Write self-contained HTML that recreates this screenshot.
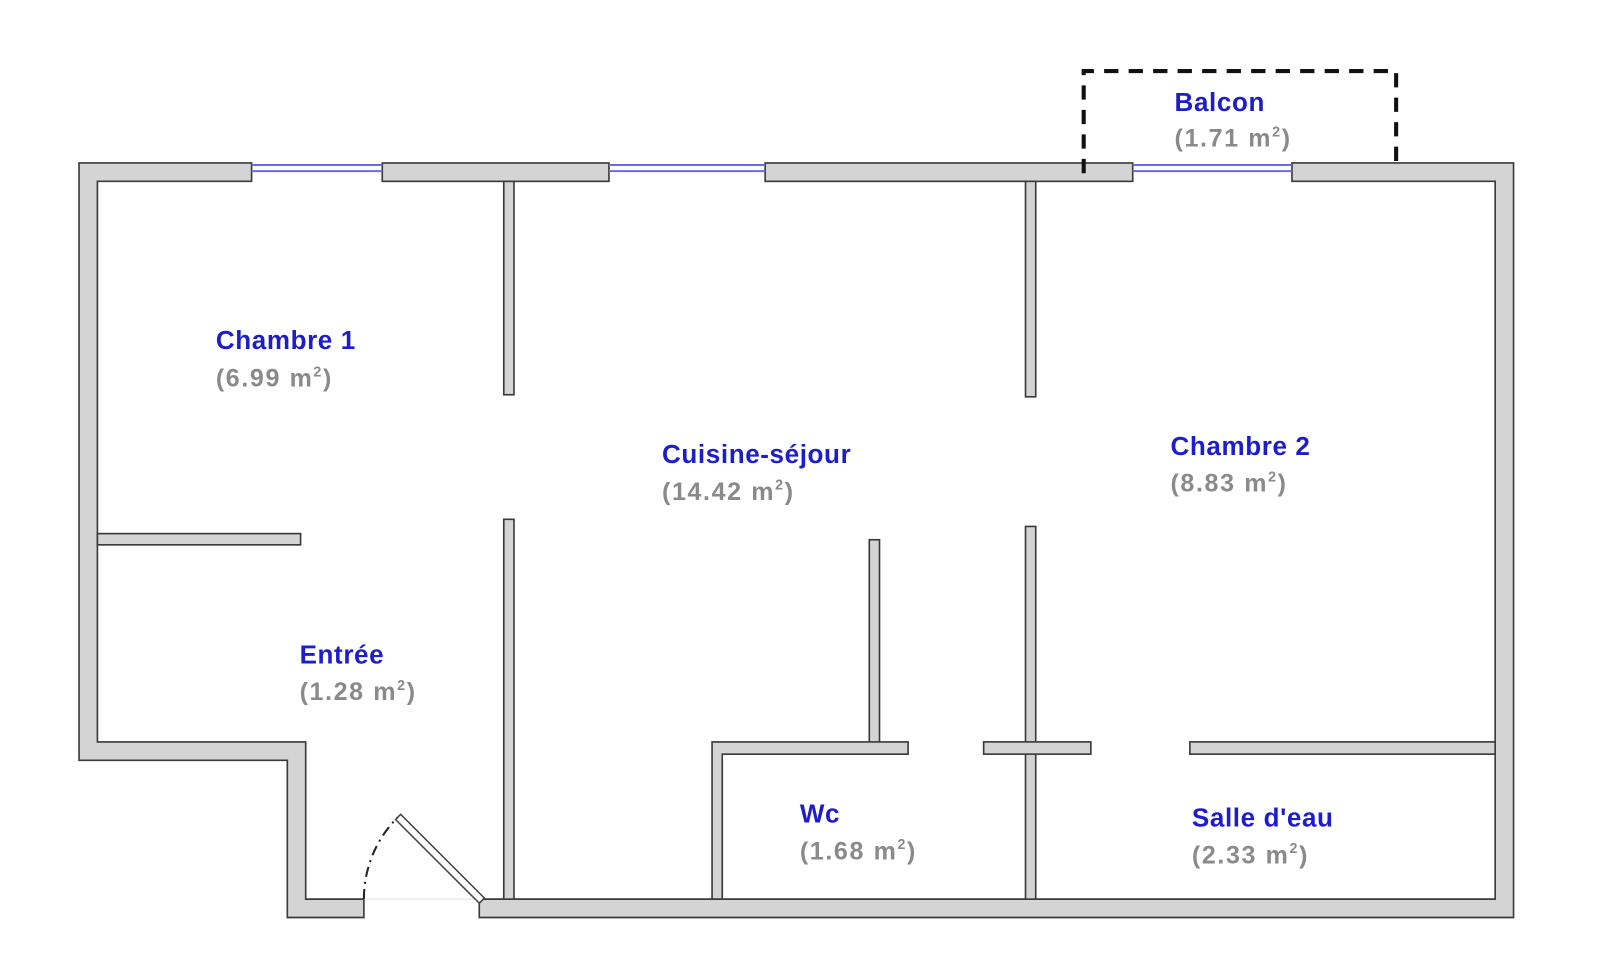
<!DOCTYPE html>
<html><head><meta charset="utf-8"><style>
html,body{margin:0;padding:0;background:#fff;}
svg{display:block}
.n{font-family:"Liberation Sans",sans-serif;font-weight:bold;font-size:25.5px;fill:#1c1cd2;letter-spacing:0.6px}
.a{font-family:"Liberation Sans",sans-serif;font-weight:bold;font-size:24.5px;fill:#8a8a8a;letter-spacing:1.6px}
.s{font-size:14px}
</style></head><body>
<svg width="1600" height="966" viewBox="0 0 1600 966" xmlns="http://www.w3.org/2000/svg">
<g transform="matrix(1.021 0 0 1.021 -0.6 -1.4)">
<g fill="#d4d4d4" stroke="#3a3a3a" stroke-width="1.6">
<polygon points="78,161 247,161 247,179 96,179 96,728 300,728 300,882 357,882 357,900 282,900 282,746 78,746"/>
<rect x="375" y="161" width="222" height="18"/>
<rect x="750" y="161" width="360" height="18"/>
<polygon points="1266,161 1483,161 1483,900 470,900 470,882 1465,882 1465,179 1266,179"/>
<rect x="494" y="179" width="10" height="209"/>
<rect x="494" y="510" width="10" height="372"/>
<rect x="96" y="524" width="199" height="11"/>
<rect x="1005" y="179" width="10" height="211"/>
<rect x="1005" y="517" width="10" height="365"/>
<rect x="852" y="530" width="10" height="200"/>
<polygon points="698,728 890,728 890,740 708,740 708,882 698,882"/>
<rect x="964" y="728" width="105" height="12"/>
<rect x="1166" y="728" width="299" height="12"/>
</g>
<g stroke="#6a6ae8" stroke-width="2">
<line x1="247" y1="163" x2="375" y2="163"/><line x1="247" y1="169" x2="375" y2="169"/>
<line x1="597" y1="163" x2="750" y2="163"/><line x1="597" y1="169" x2="750" y2="169"/>
<line x1="1110" y1="163" x2="1266" y2="163"/><line x1="1110" y1="169" x2="1266" y2="169"/>
</g>
<line x1="357" y1="882" x2="470" y2="882" stroke="#ddd" stroke-width="1"/>
<polygon points="470,886 475,881 393,799 388,804" fill="#fff" stroke="#444" stroke-width="1.5"/>
<path d="M357,882 A113,113 0 0 1 390,802" fill="none" stroke="#222" stroke-width="2" stroke-dasharray="10,5,2,5"/>
<path d="M1062,171 L1062,71 L1368,71 L1368,161" fill="none" stroke="#111" stroke-width="4" stroke-dasharray="14,10"/>
<text class="n" x="1151" y="110">Balcon</text>
<text class="a" x="1151" y="145">(1.71 m<tspan class="s" dy="-10">2</tspan><tspan dy="10">)</tspan></text>
<text class="n" x="212" y="343">Chambre 1</text>
<text class="a" x="212" y="380">(6.99 m<tspan class="s" dy="-10">2</tspan><tspan dy="10">)</tspan></text>
<text class="n" x="649" y="455">Cuisine-séjour</text>
<text class="a" x="649" y="491">(14.42 m<tspan class="s" dy="-10">2</tspan><tspan dy="10">)</tspan></text>
<text class="n" x="1147" y="447">Chambre 2</text>
<text class="a" x="1147" y="483">(8.83 m<tspan class="s" dy="-10">2</tspan><tspan dy="10">)</tspan></text>
<text class="n" x="294" y="651">Entrée</text>
<text class="a" x="294" y="687">(1.28 m<tspan class="s" dy="-10">2</tspan><tspan dy="10">)</tspan></text>
<text class="n" x="784" y="807">Wc</text>
<text class="a" x="784" y="843">(1.68 m<tspan class="s" dy="-10">2</tspan><tspan dy="10">)</tspan></text>
<text class="n" x="1168" y="811">Salle d'eau</text>
<text class="a" x="1168" y="847">(2.33 m<tspan class="s" dy="-10">2</tspan><tspan dy="10">)</tspan></text>
</g>
</svg>
</body></html>
